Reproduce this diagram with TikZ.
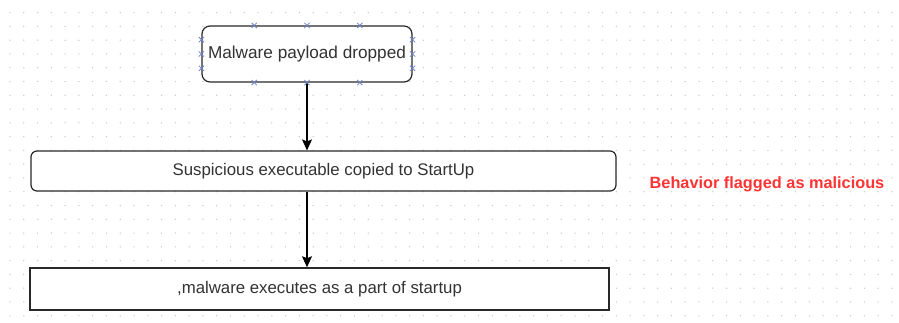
\documentclass[tikz,border=0pt]{standalone}
\usepackage{fontspec}
\setmainfont{Liberation Sans}
\usetikzlibrary{arrows.meta,calc}
\definecolor{gridc}{RGB}{200,200,200}
\definecolor{edgec}{RGB}{40,40,40}
\definecolor{txtc}{RGB}{51,51,51}
\definecolor{redc}{RGB}{255,51,51}
\definecolor{markc}{RGB}{110,130,200}
\tikzset{
  box/.style={draw=edgec, fill=white, line width=1.2pt, inner sep=0pt, text=txtc,
    font=\fontsize{16.8}{20}\selectfont},
  flow/.style={draw=black, line width=1.1pt, -{Stealth[length=11pt,width=10pt,inset=2pt]}},
  xmark/.style={draw=markc, line width=0.8pt},
  note/.style={text=redc, font=\bfseries\fontsize{16.3}{20}\selectfont, inner sep=0pt}
}
\begin{document}
\begin{tikzpicture}[x=1pt,y=-1pt]
\useasboundingbox (0,0) rectangle (899,322);
% dotted grid
\foreach \i in {0,...,64}{
  \foreach \j in {0,...,22}{
    \fill[gridc] ({10+\i*13.78},{12.6+\j*13.78}) circle (0.75);
  }
}
% nodes
\node[box, rounded corners=8pt, minimum width=210pt, minimum height=56pt,
  font=\fontsize{17.2}{20}\selectfont] (top) at (307,54) {Malware payload dropped};
\node[box, rounded corners=6pt, minimum width=585pt, minimum height=40pt]
  (mid) at (323.5,171) {Suspicious executable copied to StartUp};
\node[box, line width=1.5pt, minimum width=579pt, minimum height=42pt]
  (bot) at (319.5,289) {,malware executes as a part of startup};
\node[note] (flag) at (767,184) {Behavior flagged as malicious};
% connectors
\draw[flow] (top.south) -- (top.south |- mid.north);
\draw[flow] (mid.south -| top.south) -- (bot.north -| top.south);
% connection point markers on the selected shape
\foreach \t in {0.25,0.5,0.75}{
  \foreach \a/\b in {north west/north east, south west/south east, north west/south west, north east/south east}{
    \path ($(top.\a)!\t!(top.\b)$) coordinate (m);
    \draw[xmark] ($(m)+(-2.6,-2.6)$) -- ($(m)+(2.6,2.6)$);
    \draw[xmark] ($(m)+(-2.6,2.6)$) -- ($(m)+(2.6,-2.6)$);
  }
}
\end{tikzpicture}
\end{document}
